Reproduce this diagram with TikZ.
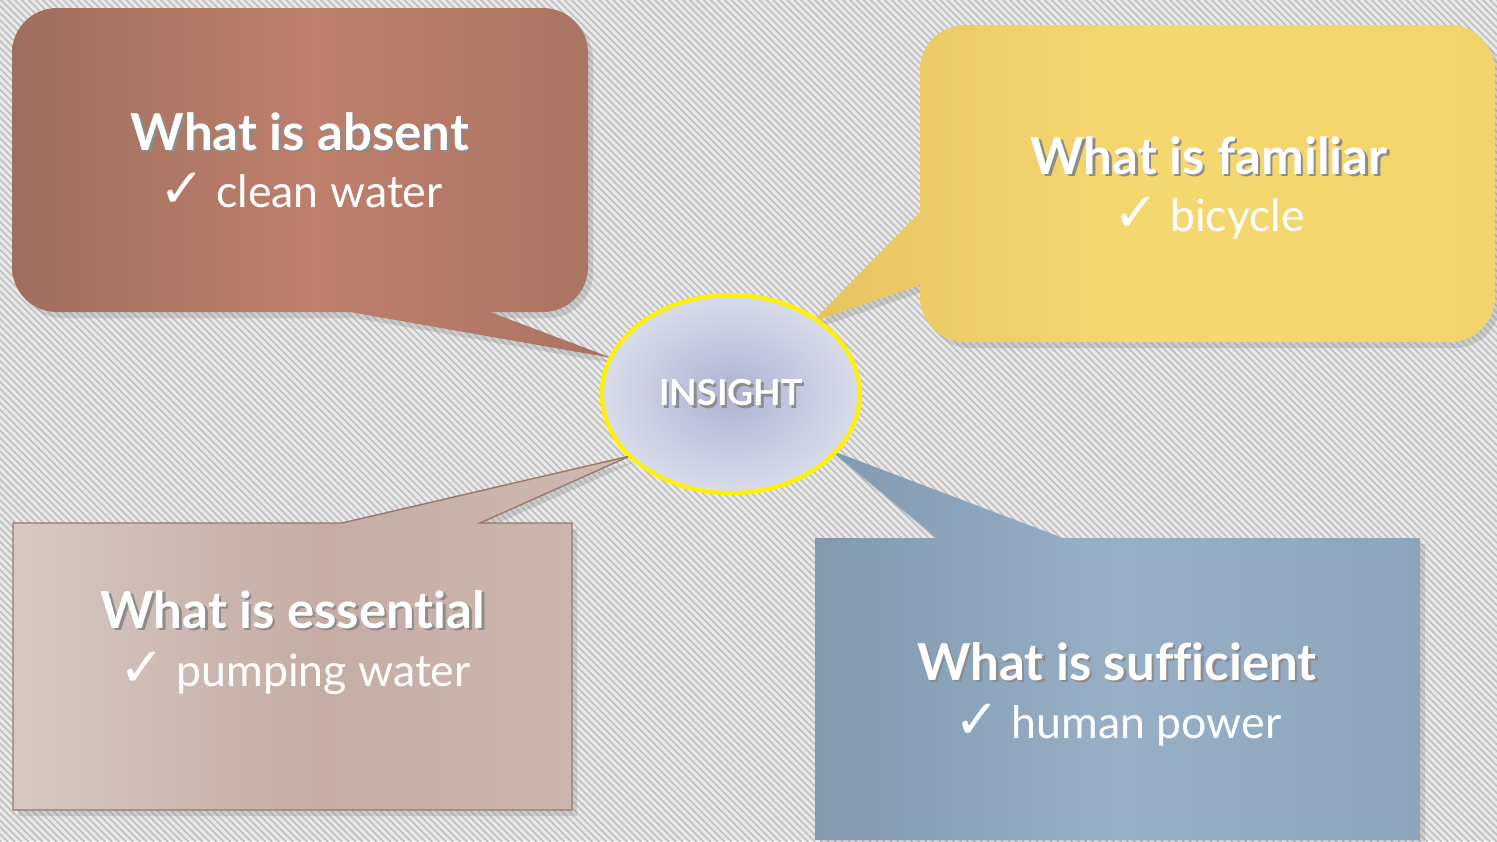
\documentclass[tikz,border=0pt]{standalone}
\usepackage{fontspec}
\setmainfont{Lato}[Ligatures=NoCommon]
\newfontfamily\symfont{DejaVu Sans}
\usetikzlibrary{shapes.geometric}
\usetikzlibrary{patterns.meta}
\usetikzlibrary{shadows}

\definecolor{brownA}{HTML}{9E6E5F}
\definecolor{brownB}{HTML}{BE7F6B}
\definecolor{brownC}{HTML}{A97462}
\definecolor{yellowA}{HTML}{E7C462}
\definecolor{yellowB}{HTML}{F6D870}
\definecolor{yellowC}{HTML}{F2D36C}
\definecolor{pinkA}{HTML}{D6C8C3}
\definecolor{pinkB}{HTML}{C5ADA5}
\definecolor{pinkC}{HTML}{CDB9B2}
\definecolor{pinkline}{HTML}{9A786C}
\definecolor{blueA}{HTML}{8299AE}
\definecolor{blueB}{HTML}{97B0C7}
\definecolor{blueC}{HTML}{8DA5BB}
\definecolor{ellIn}{HTML}{ADB2D2}
\definecolor{ellOut}{HTML}{D9DCEA}

\newcommand\shtext[1]{\leavevmode\rlap{\kern0.7pt\raisebox{-0.7pt}{\color{black!45}#1}}#1}
\newcommand\chk{{\symfont\fontsize{15.5}{16}\selectfont ✓}}

\begin{document}
\begin{tikzpicture}
[x=0.1mm,y=0.1mm,%
  head/.style={text=white,anchor=base,font=\fontsize{14.5}{17}\selectfont\bfseries},
  item/.style={text=white,anchor=base,font=\fontsize{12.7}{16}\selectfont},
  bubble/.style={drop shadow={shadow xshift=0.5mm,shadow yshift=-0.6mm,opacity=0.25}}]
%% background
\fill[gray!18] (0,0) rectangle (1497,841);
\fill[pattern={Lines[angle=-45,distance=1.4pt,line width=0.45pt]},pattern color=gray!50]
  (0,0) rectangle (1497,841);
\useasboundingbox (0,0) rectangle (1497,841);
%% callouts
\path[bubble,left color=brownA,right color=brownC,middle color=brownB]
  (57,833) -- (543,833) arc[start angle=90,end angle=0,radius=45]
  -- (588,574) arc[start angle=0,end angle=-90,radius=45]
  -- (490,529) -- (612,483) -- (350,529)
  -- (57,529) arc[start angle=270,end angle=180,radius=45]
  -- (12,788) arc[start angle=180,end angle=90,radius=45] -- cycle;
\path[bubble,left color=yellowA,right color=yellowC,middle color=yellowB]
  (965,816) -- (1450,816) arc[start angle=90,end angle=0,radius=45]
  -- (1495,544) arc[start angle=0,end angle=-90,radius=45]
  -- (965,499) arc[start angle=270,end angle=180,radius=45]
  -- (920,556) -- (812,519) -- (920,629)
  -- (920,771) arc[start angle=180,end angle=90,radius=45] -- cycle;
\path[bubble,draw=pinkline,left color=pinkA,right color=pinkC,middle color=pinkB]
  (13,31) -- (572,31) -- (572,318) -- (480,318) -- (630,385) -- (342,318)
  -- (13,318) -- cycle;
\path[bubble,left color=blueA,right color=blueC,middle color=blueB]
  (815,1) -- (1420,1) -- (1420,303) -- (1063,303) -- (830,391) -- (937,303)
  -- (815,303) -- cycle;
%% centre
\node[ellipse,draw=yellow,line width=1.2pt,inner color=ellIn,outer color=ellOut,
  minimum width=25.8mm,minimum height=19.8mm,text=white,
  font=\fontsize{10.2}{12}\selectfont\bfseries] (insight) at (731,447) {\shtext{INSIGHT}};
%% texts
\node[head] (absent) at (300,691) {\shtext{What is absent}};
\node[item] (absentitem) at (301,634) {\chk\ clean water};
\node[head] (familiar) at (1209,667) {\shtext{What is familiar}};
\node[item] (familiaritem) at (1209,610) {\chk\ bicycle};
\node[head] (essential) at (293,213) {\shtext{What is essential}};
\node[item] (essentialitem) at (295,155) {\chk\ pumping water};
\node[head] (sufficient) at (1117,161) {\shtext{What is sufficient}};
\node[item] (sufficientitem) at (1118,103) {\chk\ human power};
\end{tikzpicture}
\end{document}
